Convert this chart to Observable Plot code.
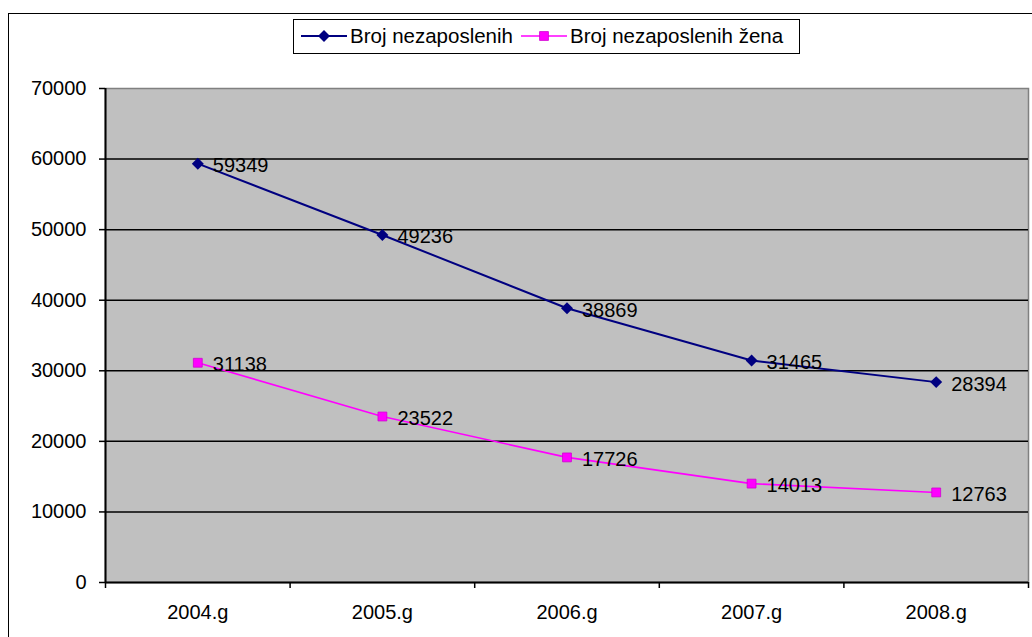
<!DOCTYPE html>
<html><head><meta charset="utf-8">
<script src="https://cdn.jsdelivr.net/npm/d3@7"></script>
<script src="https://cdn.jsdelivr.net/npm/@observablehq/plot@0.6"></script>
<style>
html,body{margin:0;padding:0;overflow:hidden;background:#fff;font-family:"Liberation Sans",Arial,sans-serif;}
#wrap{position:relative;width:1032px;height:637px;overflow:hidden;}
#border{position:absolute;left:8px;top:13px;width:1100px;height:700px;border:1.5px solid #000;box-sizing:border-box;}
#chart{position:absolute;left:0;top:0;}
#legend{position:absolute;left:293px;top:19px;width:507px;height:35px;border:1.5px solid #000;box-sizing:border-box;background:#fff;font-size:20.5px;color:#000;}
#legend .item{position:absolute;top:0;height:32px;display:flex;align-items:center;white-space:nowrap;}
#legend svg{display:block;margin-right:3px;}
</style></head><body>
<div id="wrap"><div id="border"></div><div id="chart"></div><div id="legend"></div></div>
<script>
const categories = ["2004.g", "2005.g", "2006.g", "2007.g", "2008.g"];
const seriesNames = ["Broj nezaposlenih", "Broj nezaposlenih žena"];
const totalValues = [59349, 49236, 38869, 31465, 28394];
const womenValues = [31138, 23522, 17726, 14013, 12763];
const yTicks = [0, 10000, 20000, 30000, 40000, 50000, 60000, 70000];
const seriesColors = ["#000080", "#FF00FF"];

const rows = [];
[totalValues, womenValues].forEach((vals, s) => {
  vals.forEach((v, i) => rows.push({series: seriesNames[s], cat: categories[i], pos: i + 0.5, value: v}));
});
const totalRows = rows.filter(d => d.series === seriesNames[0]);
const womenRows = rows.filter(d => d.series === seriesNames[1]);

const chart = Plot.plot({
  width: 1032,
  height: 637,
  marginLeft: 105,
  marginRight: 4,
  marginTop: 88,
  marginBottom: 55,
  style: {fontFamily: "'Liberation Sans', Arial, sans-serif", fontSize: "20px", background: "transparent", color: "#000"},
  x: {type: "linear", domain: [0, categories.length], axis: null},
  y: {domain: [0, 70000], axis: null},
  color: {domain: seriesNames, range: seriesColors},
  marks: [
    Plot.frame({fill: "#C0C0C0", stroke: "#808080", strokeWidth: 1.5}),
    Plot.ruleY(yTicks.filter(d => d > 0 && d < 70000), {stroke: "#000", strokeWidth: 1.5}),
    Plot.ruleX([0], {stroke: "#000", strokeWidth: 2}),
    Plot.ruleY([0], {stroke: "#000", strokeWidth: 2}),
    Plot.axisY({ticks: yTicks, tickSize: 6, tickPadding: 13, tickFormat: d => String(d), label: null, fontSize: 20, stroke: "#000", strokeWidth: 1.5}),
    Plot.axisX({ticks: d3.range(categories.length + 1), tickSize: 6, tickFormat: () => "", label: null, stroke: "#000", strokeWidth: 1.5}),
    Plot.axisX({ticks: categories.map((c, i) => i + 0.5), tickSize: 0, tickPadding: 22, tickFormat: d => categories[Math.floor(d)], label: null, fontSize: 20}),
    Plot.line(totalRows, {x: "pos", y: "value", stroke: seriesColors[0], strokeWidth: 2}),
    Plot.line(womenRows, {x: "pos", y: "value", stroke: seriesColors[1], strokeWidth: 1.6}),
    Plot.dot(totalRows, {x: "pos", y: "value", symbol: "diamond2", r: 5.4, fill: seriesColors[0], stroke: "none"}),
    Plot.dot(womenRows, {x: "pos", y: "value", symbol: "square", r: 5, fill: seriesColors[1], stroke: "#d000d0", strokeWidth: 0.8}),
    Plot.text(rows, {x: "pos", y: "value", text: d => String(d.value), textAnchor: "start", dx: 15, dy: 2, fontSize: 20, fill: "#000"})
  ]
});
document.getElementById("chart").appendChild(chart);

// legend
const legend = d3.select("#legend");
const itemLefts = [7, 227];
seriesNames.forEach((name, s) => {
  const item = legend.append("div").attr("class", "item").style("left", itemLefts[s] + "px");
  const svg = item.append("svg").attr("width", 46).attr("height", 20);
  svg.append("line").attr("x1", 0).attr("x2", 46).attr("y1", 10).attr("y2", 10)
    .attr("stroke", seriesColors[s]).attr("stroke-width", s === 0 ? 2 : 1.6);
  const sym = s === 0 ? d3.symbolDiamond2 : d3.symbolSquare;
  const size = Math.PI * (s === 0 ? 5.4 : 5) ** 2;
  svg.append("path").attr("d", d3.symbol(sym, size)()).attr("transform", "translate(23,10)")
    .attr("fill", seriesColors[s]).attr("stroke", s === 0 ? "none" : "#d000d0").attr("stroke-width", 0.8);
  item.append("span").text(name);
});
</script>
</body></html>
